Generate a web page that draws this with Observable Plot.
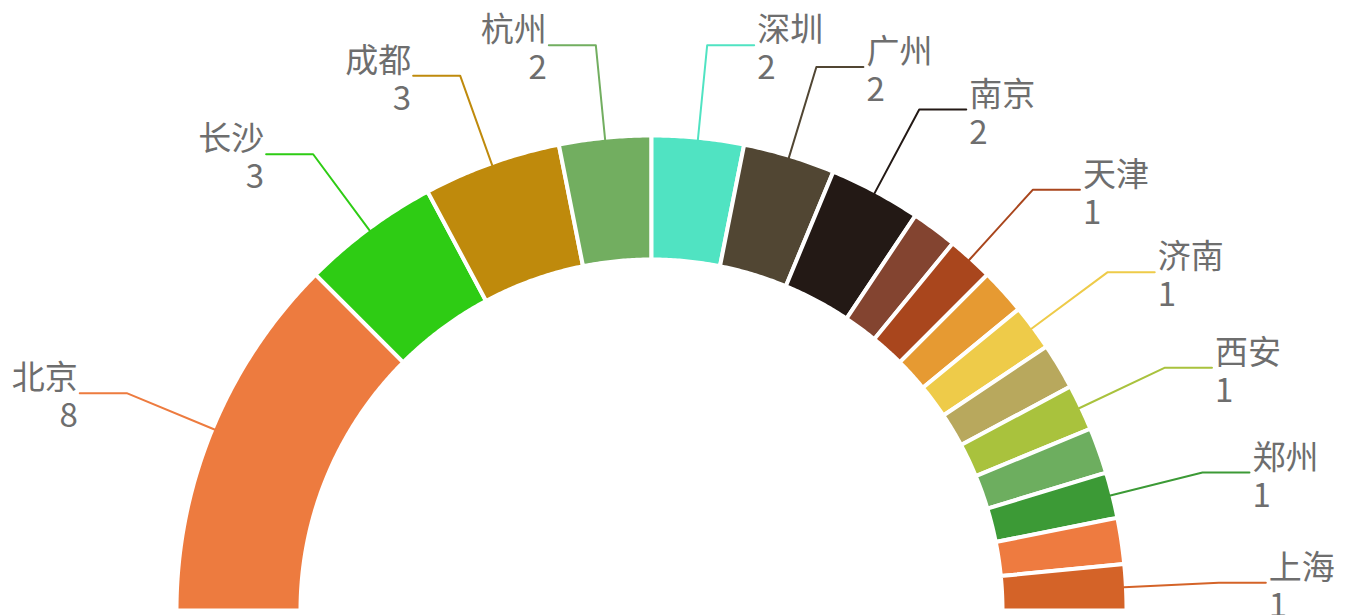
<!DOCTYPE html>
<html>
<head>
<meta charset="utf-8">
<script src="https://cdn.jsdelivr.net/npm/d3@7"></script>
<script src="https://cdn.jsdelivr.net/npm/@observablehq/plot@0.6"></script>
<style>
  html, body { margin: 0; padding: 0; background: #fff; overflow: hidden; }
  #chart svg { display: block; }
</style>
</head>
<body>
<div id="chart"></div>
<script>
// ---- data ----
const cities = ["北京","长沙","成都","杭州","深圳","广州","南京","","天津","","济南","","西安","","郑州","","上海"];
const values = [8, 3, 3, 2, 2, 2, 2, 1, 1, 1, 1, 1, 1, 1, 1, 1, 1];
const colors = ["#ed7b3f","#2ecc14","#bf8a0c","#72ae60","#50e3c2","#514633","#231915","#834430",
                "#a9461d","#e69a32","#eecb49","#b8a85d","#a9c23d","#6dae5f","#3c9a36","#ee7b40","#d46328"];

// ---- layout parameters ----
const W = 1349, H = 615;
const cx = 651, cy = 610;          // pie centre in pixels
const R_OUT = 475, R_IN = 351;     // ring radii (before white gap stroke)
const R_LINE0 = 473, R_LINE1 = 568, LINE2 = 47;

const total = d3.sum(values);
let cum = 0;
const slices = values.map((v, i) => {
  const a0 = Math.PI * (1 - cum / total);
  cum += v;
  const a1 = Math.PI * (1 - cum / total);
  return {i, name: cities[i], value: v, color: colors[i], a0, a1, mid: (a0 + a1) / 2};
});

// ring polygons
const ringPts = [];
for (const s of slices) {
  const n = Math.max(12, s.value * 16);
  for (let k = 0; k <= n; k++) {
    const a = s.a0 + (s.a1 - s.a0) * k / n;
    ringPts.push({i: s.i, color: s.color, x: R_OUT * Math.cos(a), y: R_OUT * Math.sin(a)});
  }
  for (let k = n; k >= 0; k--) {
    const a = s.a0 + (s.a1 - s.a0) * k / n;
    ringPts.push({i: s.i, color: s.color, x: R_IN * Math.cos(a), y: R_IN * Math.sin(a)});
  }
}

// leader lines & labels
const labeled = slices.filter(s => s.name !== "").map(s => {
  const side = Math.cos(s.mid) < 0 ? -1 : 1;
  const bx = R_LINE1 * Math.cos(s.mid), by = R_LINE1 * Math.sin(s.mid);
  return {...s, side, p0x: R_LINE0 * Math.cos(s.mid), p0y: R_LINE0 * Math.sin(s.mid),
          bx, by, ex: bx + side * LINE2, ey: by};
});
const leaderPts = labeled.flatMap(s => [
  {i: s.i, color: s.color, x: s.p0x, y: s.p0y},
  {i: s.i, color: s.color, x: s.bx, y: s.by},
  {i: s.i, color: s.color, x: s.ex, y: s.ey}
]);

const left = labeled.filter(s => s.side < 0);
const right = labeled.filter(s => s.side > 0);
const textStyle = {fontSize: 33, lineHeight: 1.15, lineAnchor: "middle", fill: "#6e6e6e",
                   fontFamily: "'Noto Sans CJK SC', 'Noto Sans', sans-serif"};
const labelMarks = (arr, anchor, off) =>
  Plot.text(arr, {x: d => d.ex + off, y: "ey", text: d => d.name + "\n" + d.value,
                  textAnchor: anchor, dy: 3, ...textStyle});

const chart = Plot.plot({
  width: W, height: H,
  margin: 0,
  x: {domain: [-cx, W - cx], range: [0, W], axis: null},
  y: {domain: [-(H - cy), cy], range: [H, 0], axis: null},
  color: {type: "identity"},
  marks: [
    Plot.line(ringPts, {x: "x", y: "y", z: "i", fill: "color", stroke: "white", strokeWidth: 4,
                        strokeLinejoin: "miter", curve: "linear-closed"}),
    Plot.line(leaderPts, {x: "x", y: "y", z: "i", stroke: "color", strokeWidth: 2, curve: "linear"}),
    labelMarks(left, "end", -2),
    labelMarks(right, "start", 3)
  ]
});
document.getElementById("chart").appendChild(chart);
</script>
</body>
</html>
